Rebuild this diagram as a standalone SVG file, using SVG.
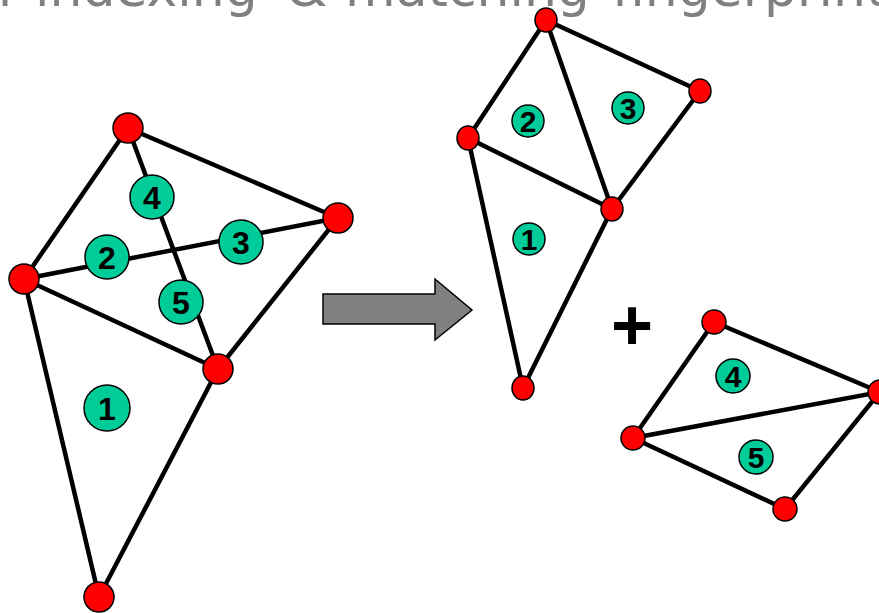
<svg xmlns="http://www.w3.org/2000/svg" width="879" height="613" viewBox="0 0 879 613">
<style>
.title{font-family:"DejaVu Sans",Verdana,sans-serif;font-size:52px;fill:#808080}
.e{stroke:#000;stroke-width:4.5;fill:none;stroke-linecap:round}
.v{fill:#ff0000;stroke:#000;stroke-width:1.5}
.g{fill:#00cc99;stroke:#000;stroke-width:1.5}
.n{font-family:"Liberation Sans",Arial,sans-serif;font-weight:bold;font-size:32px;fill:#000;text-anchor:middle}
.ns{font-size:30px}
</style>
<rect width="879" height="613" fill="#fff"/>
<text class="title" y="6"><tspan x="-2">r</tspan><tspan x="35">indexing</tspan><tspan x="287">&amp;</tspan><tspan x="345">matching</tspan><tspan x="612">fingerprints</tspan></text>

<g id="connectors">
  <!-- left figure -->
  <line class="e" x1="128" y1="128" x2="24" y2="279"/>
  <line class="e" x1="128" y1="128" x2="338" y2="218"/>
  <line class="e" x1="128" y1="128" x2="218" y2="369"/>
  <line class="e" x1="24" y1="279" x2="338" y2="218"/>
  <line class="e" x1="24" y1="279" x2="218" y2="369"/>
  <line class="e" x1="338" y1="218" x2="218" y2="369"/>
  <line class="e" x1="24" y1="279" x2="99" y2="597"/>
  <line class="e" x1="218" y1="369" x2="99" y2="597"/>
  <!-- right top figure -->
  <line class="e" x1="546" y1="20" x2="468" y2="138"/>
  <line class="e" x1="546" y1="20" x2="612" y2="209"/>
  <line class="e" x1="546" y1="20" x2="700" y2="91"/>
  <line class="e" x1="700" y1="91" x2="612" y2="209"/>
  <line class="e" x1="468" y1="138" x2="612" y2="209"/>
  <line class="e" x1="468" y1="138" x2="523" y2="388"/>
  <line class="e" x1="612" y1="209" x2="523" y2="388"/>
  <!-- right bottom figure -->
  <line class="e" x1="714" y1="322" x2="633" y2="438"/>
  <line class="e" x1="714" y1="322" x2="880" y2="392"/>
  <line class="e" x1="633" y1="438" x2="880" y2="392"/>
  <line class="e" x1="633" y1="438" x2="785" y2="509"/>
  <line class="e" x1="785" y1="509" x2="880" y2="392"/>
</g>

<g id="arrow">
  <path d="M323,294 H435 V279 L472,310 L435,340 V324 H323 Z" fill="#808080" stroke="#000" stroke-width="1.5"/>
</g>
<g id="plus">
  <text x="632" y="350" font-family="Liberation Sans, Arial, sans-serif" font-weight="bold" font-size="72" text-anchor="middle" fill="#000">+</text>
</g>

<!-- left figure labels -->
<g id="L4"><circle class="g" cx="152" cy="197" r="22"/><text class="n" x="152" y="208.5">4</text></g>
<g id="L2"><circle class="g" cx="107" cy="257" r="22"/><text class="n" x="107" y="268.5">2</text></g>
<g id="L3"><circle class="g" cx="241" cy="242" r="22"/><text class="n" x="241" y="253.5">3</text></g>
<g id="L5"><circle class="g" cx="181" cy="302" r="22"/><text class="n" x="181" y="313.5">5</text></g>
<g id="L1"><circle class="g" cx="107" cy="408" r="23"/><text class="n" x="107" y="419.5">1</text></g>
<!-- left figure vertices -->
<g id="LA"><circle class="v" cx="128" cy="128" r="15"/></g>
<g id="LB"><circle class="v" cx="338" cy="218" r="15"/></g>
<g id="LC"><circle class="v" cx="24" cy="279" r="15"/></g>
<g id="LD"><circle class="v" cx="218" cy="369" r="15"/></g>
<g id="LE"><circle class="v" cx="99" cy="597" r="15"/></g>

<!-- right top labels -->
<g id="T2"><circle class="g" cx="528" cy="121" r="16"/><text class="n ns" x="528" y="131.5">2</text></g>
<g id="T3"><circle class="g" cx="628" cy="108" r="16"/><text class="n ns" x="628" y="118.5">3</text></g>
<g id="T1"><circle class="g" cx="529" cy="239" r="16"/><text class="n ns" x="529" y="249.5">1</text></g>
<!-- right top vertices -->
<g id="TP"><ellipse class="v" cx="546" cy="20" rx="11" ry="12"/></g>
<g id="TQ"><ellipse class="v" cx="700" cy="91" rx="11" ry="12"/></g>
<g id="TR"><ellipse class="v" cx="468" cy="138" rx="11" ry="12"/></g>
<g id="TS"><ellipse class="v" cx="612" cy="209" rx="11" ry="12"/></g>
<g id="TT"><ellipse class="v" cx="523" cy="388" rx="11" ry="12"/></g>

<!-- right bottom labels -->
<g id="B4"><circle class="g" cx="733" cy="376" r="17"/><text class="n ns" x="733" y="386.5">4</text></g>
<g id="B5"><circle class="g" cx="756" cy="457" r="17"/><text class="n ns" x="756" y="467.5">5</text></g>
<!-- right bottom vertices -->
<g id="BU"><circle class="v" cx="714" cy="322" r="12"/></g>
<g id="BV"><circle class="v" cx="880" cy="392" r="12"/></g>
<g id="BW"><circle class="v" cx="633" cy="438" r="12"/></g>
<g id="BX"><circle class="v" cx="785" cy="509" r="12"/></g>
</svg>
